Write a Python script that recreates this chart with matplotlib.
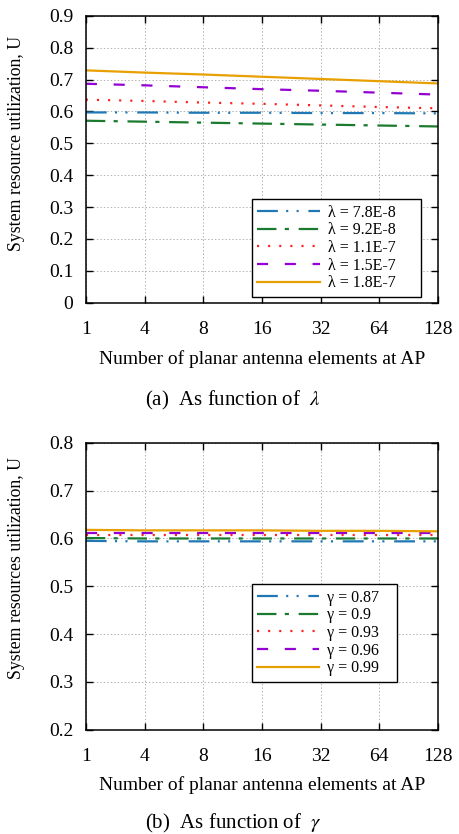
import matplotlib
matplotlib.use("Agg")
import matplotlib.pyplot as plt

plt.rcParams['font.family'] = ['Liberation Serif', 'DejaVu Serif']
plt.rcParams['mathtext.fontset'] = 'stix'
plt.rcParams['lines.scale_dashes'] = False

# x axis categories (equally spaced)
antennas = ['1', '4', '8', '16', '32', '64', '128']

# (a) as function of lambda
lam_labels = ['λ = 7.8E-8     ', 'λ = 9.2E-8     ', 'λ = 1.1E-7     ', 'λ = 1.5E-7     ', 'λ = 1.8E-7     ']
lam_78 = [0.597, 0.597, 0.596, 0.596, 0.595, 0.595, 0.594]
lam_92 = [0.571, 0.568, 0.565, 0.562, 0.559, 0.556, 0.553]
lam_11 = [0.637, 0.633, 0.628, 0.624, 0.619, 0.614, 0.610]
lam_15 = [0.687, 0.682, 0.676, 0.670, 0.665, 0.659, 0.653]
lam_18 = [0.729, 0.722, 0.716, 0.709, 0.702, 0.695, 0.688]

# (b) as function of gamma
gam_labels = ['γ = 0.87   ', 'γ = 0.9   ', 'γ = 0.93   ', 'γ = 0.96   ', 'γ = 0.99   ']
gam_87 = [0.595, 0.594, 0.594, 0.594, 0.594, 0.594, 0.594]
gam_90 = [0.601, 0.600, 0.600, 0.600, 0.600, 0.600, 0.600]
gam_93 = [0.608, 0.608, 0.608, 0.608, 0.608, 0.608, 0.608]
gam_96 = [0.612, 0.612, 0.612, 0.612, 0.612, 0.612, 0.612]
gam_99 = [0.618, 0.617, 0.617, 0.617, 0.616, 0.616, 0.615]

colors = ['#1f78b4', '#1a7a2e', '#ff2020', '#9400d3', '#e8a000']
styles = [(0, (15, 6, 1.5, 6, 1.5, 7)),
          (0, (14, 6, 3, 7)),
          (0, (1.5, 6.5)),
          (0, (8, 12)),
          '-']

fig = plt.figure(figsize=(4.59, 8.34), dpi=100)
ax1 = fig.add_axes([0.187, 0.637, 0.767, 0.344])
ax2 = fig.add_axes([0.187, 0.125, 0.767, 0.344])

x = list(range(len(antennas)))

def style_ax(ax, ylim, yticks, ylabel, ylab_y, xlab_y):
    ax.set_xlim(0, 6)
    ax.set_ylim(*ylim)
    ax.set_xticks(x)
    ax.set_xticklabels(antennas)
    ax.set_yticks(yticks)
    ax.set_yticklabels([('%g' % t) for t in yticks])
    ax.tick_params(direction='in', top=True, right=True, length=5, width=1,
                   labelsize=14, pad=9)
    ax.tick_params(axis='x', pad=13)
    ax.grid(True, linestyle=(0, (1, 1.5)), color='#b0b0b0', linewidth=0.7)
    for s in ax.spines.values():
        s.set_linewidth(1.1)
    ax.set_ylabel(ylabel, fontsize=12.8)
    ax.yaxis.set_label_coords(-0.173, ylab_y)
    ax.set_xlabel('Number of planar antenna elements at AP', fontsize=14)
    ax.xaxis.set_label_coords(0.5, xlab_y)

series_a = [lam_78, lam_92, lam_11, lam_15, lam_18]
for vals, c, ls, lab in zip(series_a, colors, styles, lam_labels):
    ax1.plot(x, vals, color=c, linestyle=ls, linewidth=1.6, label=lab)
style_ax(ax1, (0, 0.9), [0, 0.1, 0.2, 0.3, 0.4, 0.5, 0.6, 0.7, 0.8, 0.9],
         'System resource utilization, U', 0.557, -0.164)
leg1 = ax1.legend(loc='lower right', bbox_to_anchor=(0.952, 0.021), fontsize=11.5,
                  fancybox=False, edgecolor='black', framealpha=1,
                  handlelength=3.9, handletextpad=0.5, labelspacing=0.1,
                  borderpad=0.35, borderaxespad=0)
leg1.get_frame().set_linewidth(1)

series_b = [gam_87, gam_90, gam_93, gam_96, gam_99]
for vals, c, ls, lab in zip(series_b, colors, styles, gam_labels):
    ax2.plot(x, vals, color=c, linestyle=ls, linewidth=1.6, label=lab)
style_ax(ax2, (0.2, 0.8), [0.2, 0.3, 0.4, 0.5, 0.6, 0.7, 0.8],
         'System resources utilization, U', 0.564, -0.160)
leg2 = ax2.legend(loc='lower right', bbox_to_anchor=(0.884, 0.167), fontsize=11.5,
                  fancybox=False, edgecolor='black', framealpha=1,
                  handlelength=3.9, handletextpad=0.5, labelspacing=0.1,
                  borderpad=0.35, borderaxespad=0)
leg2.get_frame().set_linewidth(1)

fig.text(0.508, 1 - 400 / 834, r'(a)  As function of  $\lambda$', ha='center', va='center',
         fontsize=15)
fig.text(0.508, 1 - 823 / 834, r'(b)  As function of  $\gamma$', ha='center', va='center',
         fontsize=15)

fig.savefig('out.png', dpi=100)
